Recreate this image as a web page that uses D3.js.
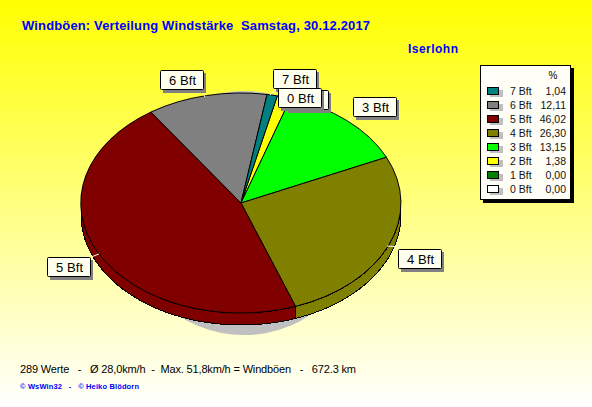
<!DOCTYPE html>
<html><head><meta charset="utf-8">
<script src="https://cdn.jsdelivr.net/npm/d3@7/dist/d3.min.js"></script>
<style>html,body{margin:0;padding:0;background:#fff}svg{display:block}text{font-family:"Liberation Sans",Arial,sans-serif}</style>
</head><body>
<script>
const categories=["7 Bft","6 Bft","5 Bft","4 Bft","3 Bft","2 Bft","1 Bft","0 Bft"];
const percents=[1.04,12.11,46.02,26.30,13.15,1.38,0,0];
const percentLabels=["1,04","12,11","46,02","26,30","13,15","1,38","0,00","0,00"];
const colours=["#008080","#808080","#800000","#808000","#00ff00","#ffff00","#008000","#ffffff"];
const pieOrder=[5,4,3,2,1,0];
const sliceLabels=[
 {t:"6 Bft",x:160,y:70,a:[205,97],b:[201,90]},
 {t:"7 Bft",x:273,y:69,a:[270,95],b:[277,88]},
 {t:"",x:285,y:90,a:[0,0],b:[0,0]},
 {t:"0 Bft",x:278,y:88,a:[0,0],b:[0,0]},
 {t:"3 Bft",x:353,y:97,a:[348,121],b:[354,116]},
 {t:"4 Bft",x:398,y:249,a:[387,246],b:[399,247]},
 {t:"5 Bft",x:47,y:257,a:[91,257],b:[99,254]}];

const W=592,H=407,cx=241,cy=203,rx=160,ry=110,depth=12;
const svg=d3.select("body").append("svg").attr("width",W).attr("height",H);
const defs=svg.append("defs");
const g=defs.append("linearGradient").attr("id","bg").attr("x1",0).attr("y1",0).attr("x2",0).attr("y2",1);
g.append("stop").attr("offset",0).attr("stop-color","#ffff00");
g.append("stop").attr("offset",1).attr("stop-color","#ffffff");
svg.append("rect").attr("width",W).attr("height",H).attr("fill","url(#bg)");

const blue="#0000ff";
svg.append("text").attr("x",22).attr("y",30).attr("fill",blue).attr("font-size",13).attr("font-weight","bold")
 .style("white-space","pre").attr("textLength",348).attr("lengthAdjust","spacing")
 .text("Windböen: Verteilung Windstärke  Samstag, 30.12.2017");
svg.append("text").attr("x",408).attr("y",53).attr("fill",blue).attr("font-size",12).attr("font-weight","bold").attr("textLength",50).text("Iserlohn");

// pie
const startAngle=13.1*Math.PI/180;
const pie=d3.pie().sort(null).startAngle(startAngle).endAngle(startAngle+2*Math.PI);
const arcs=pie(pieOrder.map(i=>percents[i])).map((d,k)=>({...d,idx:pieOrder[k]}));
const arc=d3.arc().innerRadius(0).outerRadius(1);
const sx=d3.scaleLinear().domain([-1,1]).range([cx-rx,cx+rx]);
const sy=d3.scaleLinear().domain([-1,1]).range([cy-ry,cy+ry]);
const ptx=a=>sx(Math.sin(a)), pty=a=>sy(-Math.cos(a));

// drop shadow
svg.append("ellipse").attr("cx",244).attr("cy",213).attr("rx",121).attr("ry",122).attr("fill","#c0c0c0");

// walls on the front half of the disc
const front=[Math.PI/2,3*Math.PI/2];
const wall=svg.append("g").attr("shape-rendering","crispEdges");
arcs.forEach(d=>{
  const a0=Math.max(d.startAngle,front[0]),a1=Math.min(d.endAngle,front[1]);
  const a2=Math.max(d.startAngle-2*Math.PI,front[0]),a3=Math.min(d.endAngle-2*Math.PI,front[1]);
  [[a0,a1],[a2,a3]].forEach(([s,e])=>{
    if(e<=s) return;
    const p=d3.path(), n=60, top=d3.range(n+1).map(i=>s+(e-s)*i/n);
    top.forEach((a,i)=>i?p.lineTo(ptx(a),pty(a)):p.moveTo(ptx(a),pty(a)));
    top.slice().reverse().forEach(a=>p.lineTo(ptx(a),pty(a)+depth));
    p.closePath();
    wall.append("path").attr("d",p.toString()).attr("fill",colours[d.idx]).attr("stroke","#000").attr("stroke-width",1);
  });
});

// top face
const face=svg.append("g").attr("shape-rendering","crispEdges");
face.selectAll("path").data(arcs).join("path")
 .attr("d",arc)
 .attr("transform",`translate(${cx},${cy}) scale(${rx},${ry})`)
 .attr("fill",d=>colours[d.idx]).attr("stroke","#000").attr("stroke-width",1)
 .attr("vector-effect","non-scaling-stroke");

// slice labels
const lab=svg.append("g");
sliceLabels.forEach(l=>{
  const w=43,h=20;
  if(l.a[0]) lab.append("line").attr("x1",l.a[0]).attr("y1",l.a[1]).attr("x2",l.b[0]).attr("y2",l.b[1]).attr("stroke","#ffffe0");
  lab.append("rect").attr("x",l.x+3).attr("y",l.y+3).attr("width",w).attr("height",h).attr("fill","#808080");
  lab.append("rect").attr("x",l.x+.5).attr("y",l.y+.5).attr("width",w).attr("height",h-1).attr("rx",1).attr("fill","#fffff0").attr("stroke","#000");
  if(l.t) lab.append("text").attr("x",l.x+9).attr("y",l.y+15).attr("font-size",13).attr("fill","#000").attr("textLength",27).text(l.t);
});

// legend
const L=svg.append("g");
L.append("rect").attr("x",483).attr("y",68).attr("width",91).attr("height",135).attr("fill","#000");
L.append("rect").attr("x",480.5).attr("y",65.5).attr("width",90).attr("height",134).attr("fill","#fffff8").attr("stroke","#000");
L.append("text").attr("x",553).attr("y",79).attr("text-anchor","middle").attr("font-size",10).text("%");
const rowY=d3.scalePoint().domain(categories).range([91,189]);
categories.forEach((c,i)=>{
  const y=rowY(c);
  L.append("rect").attr("x",490).attr("y",y-1).attr("width",13).attr("height",7).attr("fill","#c0c0c0");
  L.append("rect").attr("x",487.5).attr("y",y-3.5).attr("width",11).attr("height",7).attr("fill",colours[i]).attr("stroke","#000");
  L.append("text").attr("x",510).attr("y",y+4).attr("font-size",10.5).attr("fill","#111").text(c);
  L.append("text").attr("x",566).attr("y",y+4).attr("text-anchor","end").attr("font-size",10.5).attr("fill","#111").text(percentLabels[i]);
});

// footer
svg.append("text").attr("x",20).attr("y",373).attr("font-size",11).attr("fill","#000").style("white-space","pre").attr("textLength",336)
 .text("289 Werte   -   Ø 28,0km/h  -  Max. 51,8km/h = Windböen   -   672.3 km");
svg.append("text").attr("x",20).attr("y",389).attr("font-size",7.5).attr("font-weight","bold").attr("fill",blue).style("white-space","pre").attr("textLength",119)
 .text("© WsWin32   -   © Heiko Blödorn");
</script>
</body></html>
